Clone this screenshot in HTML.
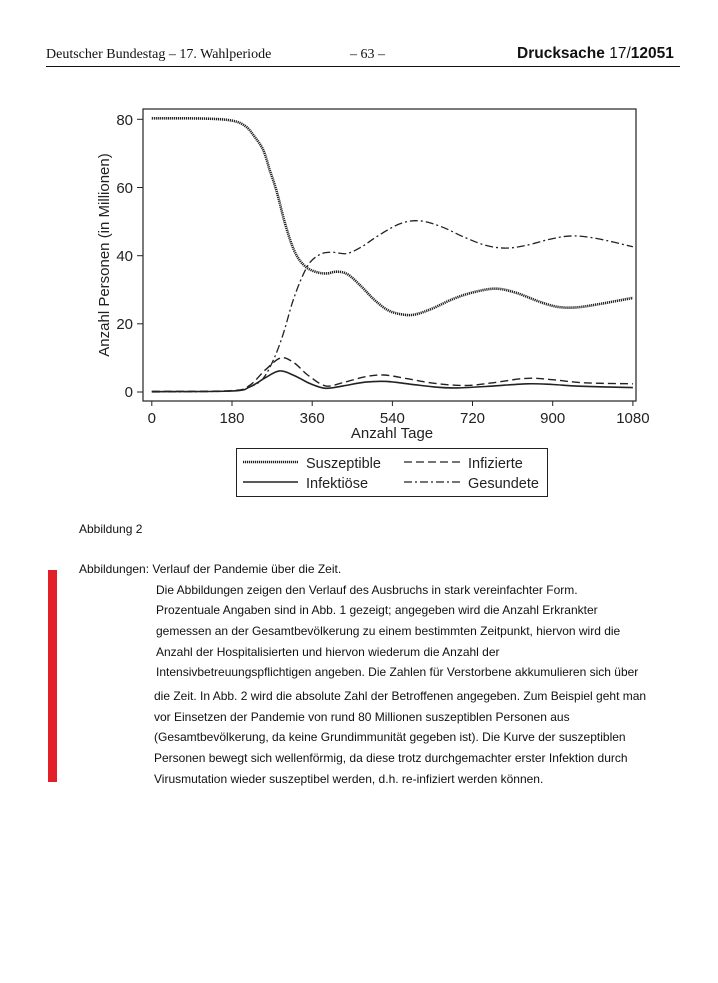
<!DOCTYPE html>
<html><head><meta charset="utf-8">
<style>
body{margin:0;background:#fff;width:718px;height:983px;position:relative;overflow:hidden;font-family:"Liberation Sans",sans-serif;color:#111}
.t{position:absolute;white-space:nowrap;line-height:1}
.p{font-size:12px}
</style></head><body>
<div class="t" style="left:46px;top:48px;font-family:'Liberation Serif',serif;font-size:14px">Deutscher Bundestag – 17. Wahlperiode</div>
<div class="t" style="left:350px;top:48px;font-family:'Liberation Serif',serif;font-size:14px">– 63 –</div>
<div class="t" style="left:517px;top:46px;font-size:15.5px"><b>Drucksache</b> 17/<b>12051</b></div>
<div style="position:absolute;left:46px;top:66px;width:634px;height:1px;background:#111"></div>

<svg style="position:absolute;left:0;top:0" width="718" height="520" font-family="Liberation Sans, sans-serif">
<rect x="143" y="109" width="493" height="292" fill="none" stroke="#222" stroke-width="1.2"/>
<g font-size="15" fill="#222" text-anchor="end">
<text x="133" y="125">80</text><text x="133" y="193">60</text><text x="133" y="261">40</text><text x="133" y="329">20</text><text x="133" y="397">0</text>
</g>
<g stroke="#222"><line x1="137" x2="143" y1="119.3" y2="119.3"/><line x1="137" x2="143" y1="187.5" y2="187.5"/><line x1="137" x2="143" y1="255.7" y2="255.7"/><line x1="137" x2="143" y1="323.8" y2="323.8"/><line x1="137" x2="143" y1="392" y2="392"/>
<line y1="401" y2="406" x1="151.8" x2="151.8"/><line y1="401" y2="406" x1="232" x2="232"/><line y1="401" y2="406" x1="312.2" x2="312.2"/><line y1="401" y2="406" x1="392.4" x2="392.4"/><line y1="401" y2="406" x1="472.5" x2="472.5"/><line y1="401" y2="406" x1="552.7" x2="552.7"/><line y1="401" y2="406" x1="632.9" x2="632.9"/></g>
<g font-size="15" fill="#222" text-anchor="middle">
<text x="151.8" y="423">0</text><text x="232" y="423">180</text><text x="312.2" y="423">360</text><text x="392.4" y="423">540</text><text x="472.5" y="423">720</text><text x="552.7" y="423">900</text><text x="632.9" y="423">1080</text>
<text x="392" y="438">Anzahl Tage</text>
<text transform="translate(109,255) rotate(-90)">Anzahl Personen (in Millionen)</text>
</g>
<g id="curves" fill="none" stroke="#222"></g>
<rect x="236.5" y="448.5" width="311" height="48" fill="none" stroke="#222"/>
<g stroke="#222" fill="none">
<line x1="243" x2="298" y1="462" y2="462" stroke-width="2.5" stroke-dasharray="1.2 0.8"/>
<line x1="404" x2="460" y1="462" y2="462" stroke-width="1.3" stroke-dasharray="8 4"/>
<line x1="243" x2="298" y1="482" y2="482" stroke-width="1.5"/>
<line x1="404" x2="460" y1="482" y2="482" stroke-width="1.2" stroke-dasharray="8 3 2 3"/>
</g>
<g font-size="14.5" fill="#222"><text x="306" y="468">Suszeptible</text><text x="468" y="468">Infizierte</text><text x="306" y="488">Infektiöse</text><text x="468" y="488">Gesundete</text></g>
</svg>

<div class="t p" style="left:79px;top:523px">Abbildung 2</div>
<div style="position:absolute;left:48px;top:570px;width:9px;height:212px;background:#e32028"></div>
<div class="t p" style="left:79px;top:563px">Abbildungen: Verlauf der Pandemie über die Zeit.</div>
<div class="t p" style="left:156px;top:584px">Die Abbildungen zeigen den Verlauf des Ausbruchs in stark vereinfachter Form.</div>
<div class="t p" style="left:156px;top:604px">Prozentuale Angaben sind in Abb. 1 gezeigt; angegeben wird die Anzahl Erkrankter</div>
<div class="t p" style="left:156px;top:625px">gemessen an der Gesamtbevölkerung zu einem bestimmten Zeitpunkt, hiervon wird die</div>
<div class="t p" style="left:156px;top:646px">Anzahl der Hospitalisierten und hiervon wiederum die Anzahl der</div>
<div class="t p" style="left:156px;top:666px">Intensivbetreuungspflichtigen angeben. Die Zahlen für Verstorbene akkumulieren sich über</div>
<div class="t p" style="left:154px;top:690px">die Zeit. In Abb. 2 wird die absolute Zahl der Betroffenen angegeben. Zum Beispiel geht man</div>
<div class="t p" style="left:154px;top:711px">vor Einsetzen der Pandemie von rund 80 Millionen suszeptiblen Personen aus</div>
<div class="t p" style="left:154px;top:731px">(Gesamtbevölkerung, da keine Grundimmunität gegeben ist). Die Kurve der suszeptiblen</div>
<div class="t p" style="left:154px;top:752px">Personen bewegt sich wellenförmig, da diese trotz durchgemachter erster Infektion durch</div>
<div class="t p" style="left:154px;top:773px">Virusmutation wieder suszeptibel werden, d.h. re-infiziert werden können.</div>

<script>
var X=d=>151.8+d*0.44546, Y=v=>392-v*3.409;
function path(pts){var p=pts.map(a=>[X(a[0]),Y(a[1])]);var s="M"+p[0][0].toFixed(1)+","+p[0][1].toFixed(1);
for(var i=0;i<p.length-1;i++){var p0=p[i-1]||p[i],p1=p[i],p2=p[i+1],p3=p[i+2]||p2;
s+=" C"+(p1[0]+(p2[0]-p0[0])/6).toFixed(1)+","+(p1[1]+(p2[1]-p0[1])/6).toFixed(1)+" "+(p2[0]-(p3[0]-p1[0])/6).toFixed(1)+","+(p2[1]-(p3[1]-p1[1])/6).toFixed(1)+" "+p2[0].toFixed(1)+","+p2[1].toFixed(1);}return s;}
var S=[[0,80.3],[120,80.2],[180,79.6],[210,78],[230,75],[250,71],[265,65],[280,59],[298,50],[315,43],[330,39],[350,36.3],[375,35],[395,34.8],[415,35.3],[440,34.5],[470,31],[500,27],[530,24],[560,22.8],[590,22.7],[630,24.5],[680,27.5],[730,29.5],[775,30.3],[820,29],[870,26.5],[910,25],[950,24.8],[1000,25.7],[1080,27.6]];
var R=[[0,0],[180,0.3],[220,1.5],[250,4],[275,10],[295,17],[315,26],[335,33],[355,38],[380,40.5],[405,41],[437,40.6],[470,42.5],[510,46],[560,49.5],[603,50.2],[650,48.5],[700,45.5],[750,43],[795,42.2],[840,43],[900,45],[946,45.8],[1000,45],[1080,42.6]];
var I=[[0,0.2],[180,0.4],[220,2],[255,6.5],[290,10],[320,8.5],[350,5],[390,1.8],[430,2.8],[480,4.5],[520,5],[570,4],[630,2.6],[700,1.9],[760,2.6],[840,4],[900,3.6],[970,2.7],[1080,2.4]];
var F=[[0,0.1],[180,0.3],[220,1.5],[255,4.2],[287,6.2],[320,4.8],[355,2.5],[390,1.1],[430,1.8],[480,2.9],[527,3.1],[580,2.3],[640,1.4],[687,1.2],[760,1.7],[843,2.4],[900,2.2],[960,1.7],[1080,1.3]];
var g=document.getElementById("curves");
[[S,'stroke-width="2.6" stroke-dasharray="1.2 0.8"'],[R,'stroke-width="1.3" stroke-dasharray="8 3 2 3"'],[I,'stroke-width="1.4" stroke-dasharray="8 4"'],[F,'stroke-width="1.6"']].forEach(function(c){
g.insertAdjacentHTML("beforeend",'<path d="'+path(c[0])+'" '+c[1]+'/>');});
</script>
</body></html>
